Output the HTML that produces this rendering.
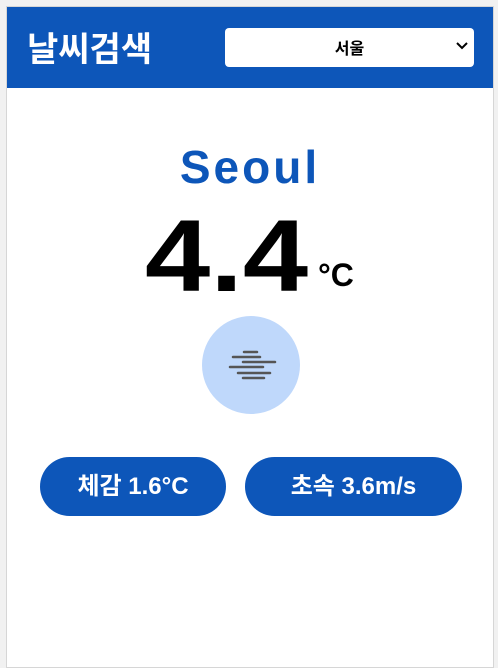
<!DOCTYPE html>
<html><head><meta charset="utf-8"><style>
body{margin:0;width:498px;height:651px;background:#f1f1f1;font-family:"Liberation Sans","Noto Sans CJK KR",sans-serif;overflow:hidden;position:relative}
.card{position:absolute;left:6px;top:6px;width:486px;height:660px;background:#fff;border:1px solid #d6d6d6}
.hdr{position:absolute;left:0;top:0;width:486px;height:81px;background:#0d56b9}
.logo{position:absolute;left:20px;top:18px;color:#fff;font-size:34px;font-weight:bold;font-family:"Noto Sans CJK KR",sans-serif;line-height:44px}
.sel{position:absolute;left:218px;top:21px;width:249px;height:39px;background:#fff;border-radius:4px;font-size:16px;font-weight:bold;text-align:center;line-height:39px;font-family:"Noto Sans CJK KR",sans-serif}
.sel svg{position:absolute;right:6px;top:14px}
.city{position:absolute;left:0;width:486px;top:132px;text-align:center;color:#0d56b9;font-size:46px;font-weight:bold;letter-spacing:3px;line-height:56px}
.temp{position:absolute;left:138px;top:198px;font-size:102px;font-weight:bold;line-height:102px;color:#000;transform:scaleX(1.15);transform-origin:0 0}
.unit{position:absolute;left:311px;top:250px;font-size:32px;font-weight:bold;line-height:36px}
.pill{position:absolute;top:450px;height:59px;border-radius:30px;background:#0d56b9;color:#fff;font-size:24px;font-weight:bold;text-align:center;line-height:59px;font-family:"Liberation Sans","Noto Sans CJK KR",sans-serif}
</style></head><body>
<div class="card">
<div class="hdr">
<div class="logo">날씨검색</div>
<div class="sel">서울<svg width="12" height="8" viewBox="0 0 12 8"><path d="M1 1l5 5 5-5" stroke="#000" stroke-width="2" fill="none"/></svg></div>
</div>
<div class="city">Seoul</div>
<div class="temp">4.4</div>
<div class="unit">°C</div>
<svg style="position:absolute;left:195px;top:309px" width="98" height="98">
<circle cx="49" cy="49" r="49" fill="#bfd8fb"/>
<g stroke="#555" stroke-width="2.5" stroke-linecap="round">
<line x1="42" y1="36" x2="55" y2="36"/><line x1="31" y1="41" x2="58" y2="41"/>
<line x1="41" y1="46" x2="73" y2="46"/><line x1="28" y1="51" x2="61" y2="51"/>
<line x1="36" y1="57" x2="68" y2="57"/><line x1="41" y1="62" x2="62" y2="62"/>
</g></svg>
<div class="pill" style="left:33px;width:186px">체감 1.6°C</div>
<div class="pill" style="left:238px;width:217px">초속 3.6m/s</div>
</div>
</body></html>
